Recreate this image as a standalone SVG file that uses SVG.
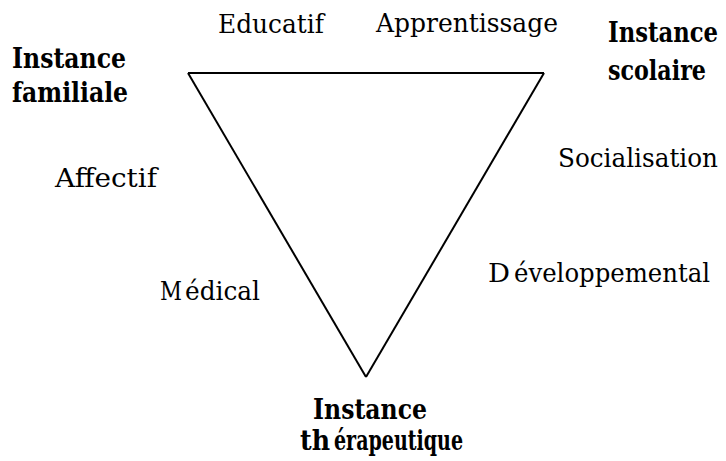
<svg xmlns="http://www.w3.org/2000/svg" width="726" height="461" viewBox="0 0 726 461">
<defs>
<style>
.edge{stroke:#000;stroke-width:2;fill:none;stroke-linecap:butt}
.b{font-family:'DejaVu Serif','Liberation Serif',serif;font-size:28px;font-weight:bold;fill:#000}
.r{font-family:'DejaVu Serif','Liberation Serif',serif;font-size:26px;fill:#000}
</style>
</defs>
<rect width="726" height="461" fill="#fff"/>
<g id="connectors">
<line class="edge" x1="188" y1="73" x2="544" y2="73"/>
<line class="edge" x1="188" y1="73" x2="366" y2="377"/>
<line class="edge" x1="544" y1="73" x2="366" y2="377"/>
</g>
<g id="instance-familiale">
<text class="b" x="12" y="68" textLength="114" lengthAdjust="spacingAndGlyphs">Instance</text>
<text class="b" x="12" y="102" textLength="116" lengthAdjust="spacingAndGlyphs">familiale</text>
</g>
<g id="instance-scolaire">
<text class="b" transform="translate(608,42) scale(0.8,1)" x="0" y="0" textLength="137.5" lengthAdjust="spacingAndGlyphs">Instance</text>
<text class="b" transform="translate(608,80) scale(0.8,1)" x="0" y="0" textLength="122.5" lengthAdjust="spacingAndGlyphs">scolaire</text>
</g>
<g id="instance-therapeutique">
<text class="b" x="313" y="419" textLength="114" lengthAdjust="spacingAndGlyphs">Instance</text>
<text class="b" x="300" y="450" textLength="30" lengthAdjust="spacingAndGlyphs">th</text>
<text class="b" x="334" y="450" textLength="129" lengthAdjust="spacingAndGlyphs">érapeutique</text>
</g>
<g id="labels">
<text class="r" x="218" y="33" textLength="106" lengthAdjust="spacingAndGlyphs">Educatif</text>
<text class="r" x="376" y="32" textLength="182" lengthAdjust="spacingAndGlyphs">Apprentissage</text>
<text class="r" x="558" y="167" textLength="160" lengthAdjust="spacingAndGlyphs">Socialisation</text>
<text class="r" x="55" y="187" textLength="102" lengthAdjust="spacingAndGlyphs">Affectif</text>
<text class="r" x="160" y="300" textLength="22" lengthAdjust="spacingAndGlyphs">M</text>
<text class="r" x="185" y="300" textLength="75" lengthAdjust="spacingAndGlyphs">édical</text>
<text class="r" x="488" y="282" textLength="22" lengthAdjust="spacingAndGlyphs">D</text>
<text class="r" x="514" y="282" textLength="196" lengthAdjust="spacingAndGlyphs">éveloppemental</text>
</g>
</svg>
